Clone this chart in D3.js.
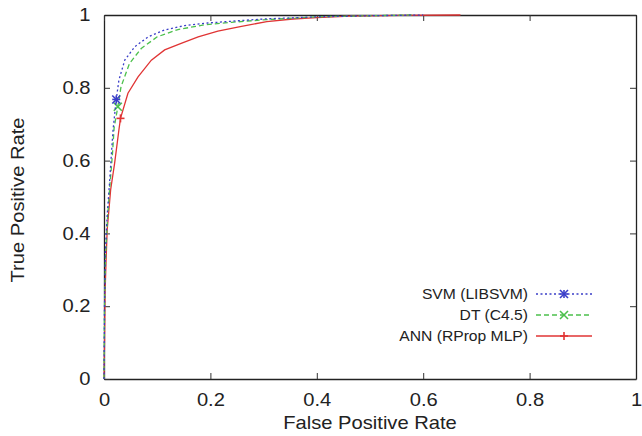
<!DOCTYPE html>
<html>
<head>
<meta charset="utf-8">
<script src="https://cdn.jsdelivr.net/npm/d3@7"></script>
<style>
  body { margin: 0; background: #fff; }
  text { font-family: "Liberation Sans", Arial, sans-serif; fill: #222; }
</style>
</head>
<body>
<svg width="642" height="436"></svg>
<script>
// ROC curves: [false positive rate, true positive rate]
var svmPoints = [[0,0],[0.001,0.2],[0.0025,0.346],[0.006,0.45],[0.01,0.53],[0.014,0.62],[0.017,0.684],
  [0.023,0.768],[0.028,0.821],[0.039,0.876],[0.058,0.913],[0.083,0.94],[0.114,0.959],[0.152,0.971],
  [0.195,0.978],[0.25,0.984],[0.3,0.989],[0.4,0.995],[0.5,0.998],[0.6,1.0]];
var dtPoints = [[0,0],[0.001,0.2],[0.003,0.34],[0.007,0.45],[0.011,0.53],[0.016,0.62],[0.019,0.69],
  [0.026,0.748],[0.032,0.803],[0.048,0.867],[0.07,0.908],[0.1,0.94],[0.139,0.96],[0.189,0.973],
  [0.24,0.98],[0.293,0.986],[0.4,0.995],[0.5,0.998],[0.58,1.0]];
var annPoints = [[0,0],[0.001,0.1],[0.002,0.236],[0.004,0.33],[0.006,0.41],[0.0125,0.52],[0.02,0.593],
  [0.028,0.684],[0.031,0.716],[0.045,0.785],[0.064,0.83],[0.089,0.876],[0.114,0.904],[0.145,0.922],
  [0.177,0.94],[0.214,0.956],[0.256,0.968],[0.306,0.982],[0.355,0.989],[0.40,0.993],[0.462,0.997],
  [0.556,0.999],[0.67,1.0]];

// index of the point that carries the marker
var markerAt = [7, 7, 8];

var seriesNames = ["SVM (LIBSVM)", "DT (C4.5)", "ANN (RProp MLP)"];
var seriesColors = ["#3a3ec8", "#4cc04c", "#e03434"];
var seriesDash = ["2,2.5", "5,3", null];
var seriesMarks = ["star", "cross", "plus"];

var tickValues = [0, 0.2, 0.4, 0.6, 0.8, 1];

var svg = d3.select("svg");
var plotL = 104, plotR = 636, plotT = 15, plotB = 379;

var x = d3.scaleLinear().domain([0, 1]).range([plotL, plotR]);
var y = d3.scaleLinear().domain([0, 1]).range([plotB, plotT]);
var fmt = function(d) { return String(+d.toFixed(1)); };
var stretch = "scale(1.12,1)";

// axes, ticks inward, mirrored top and right
svg.append("g").attr("transform", "translate(0," + plotB + ")")
  .call(d3.axisBottom(x).tickValues(tickValues).tickSizeInner(-6).tickSizeOuter(0).tickPadding(14).tickFormat(fmt));
svg.append("g").attr("transform", "translate(" + plotL + ",0)")
  .call(d3.axisLeft(y).tickValues(tickValues).tickSizeInner(-6).tickSizeOuter(0).tickPadding(12).tickFormat(fmt));
svg.append("g").attr("transform", "translate(0," + plotT + ")")
  .call(d3.axisTop(x).tickValues(tickValues).tickSizeInner(-6).tickSizeOuter(0).tickFormat(""));
svg.append("g").attr("transform", "translate(" + plotR + ",0)")
  .call(d3.axisRight(y).tickValues(tickValues).tickSizeInner(-6).tickSizeOuter(0).tickFormat(""));

svg.selectAll(".domain").attr("stroke", "#222").attr("stroke-width", 1.3);
svg.selectAll(".tick line").attr("stroke", "#333");
svg.selectAll(".tick text").attr("font-size", 18).attr("fill", "#222")
  .attr("font-family", "Liberation Sans, Arial, sans-serif").attr("transform", stretch);

// axis titles
svg.append("text").attr("transform", "translate(" + ((plotL + plotR) / 2) + ",429) " + stretch)
  .attr("text-anchor", "middle").attr("font-size", 18).text("False Positive Rate");
svg.append("text").attr("transform", "translate(24,200) rotate(-90) " + stretch)
  .attr("text-anchor", "middle").attr("font-size", 18).text("True Positive Rate");

var line = d3.line().x(function(d) { return x(d[0]); }).y(function(d) { return y(d[1]); });

function marker(g, kind, cx, cy, color) {
  var s = 4, p = [];
  if (kind === "plus" || kind === "star") p.push([[-s, 0], [s, 0]], [[0, -s], [0, s]]);
  if (kind === "cross" || kind === "star") p.push([[-s, -s], [s, s]], [[-s, s], [s, -s]]);
  p.forEach(function(seg) {
    g.append("line").attr("x1", cx + seg[0][0]).attr("y1", cy + seg[0][1])
      .attr("x2", cx + seg[1][0]).attr("y2", cy + seg[1][1])
      .attr("stroke", color).attr("stroke-width", 1.6);
  });
}

var allSeries = [svmPoints, dtPoints, annPoints];
var plot = svg.append("g");
// draw ANN first so the dotted / dashed curves stay on top
[2, 1, 0].forEach(function(i) {
  plot.append("path").datum(allSeries[i])
    .attr("d", line).attr("fill", "none")
    .attr("stroke", seriesColors[i]).attr("stroke-width", 1.3)
    .attr("stroke-dasharray", seriesDash[i]);
  var m = allSeries[i][markerAt[i]];
  marker(plot, seriesMarks[i], x(m[0]), y(m[1]), seriesColors[i]);
});

// legend
var legendY = [294, 315, 336];
var legend = svg.append("g");
seriesNames.forEach(function(name, i) {
  legend.append("text").attr("transform", "translate(528," + (legendY[i] + 5) + ") scale(1.08,1)")
    .attr("text-anchor", "end").attr("font-size", 14.5).text(name);
  legend.append("line").attr("x1", 536).attr("x2", 592).attr("y1", legendY[i]).attr("y2", legendY[i])
    .attr("stroke", seriesColors[i]).attr("stroke-width", 1.3).attr("stroke-dasharray", seriesDash[i]);
  marker(legend, seriesMarks[i], 564, legendY[i], seriesColors[i]);
});
</script>
</body>
</html>
